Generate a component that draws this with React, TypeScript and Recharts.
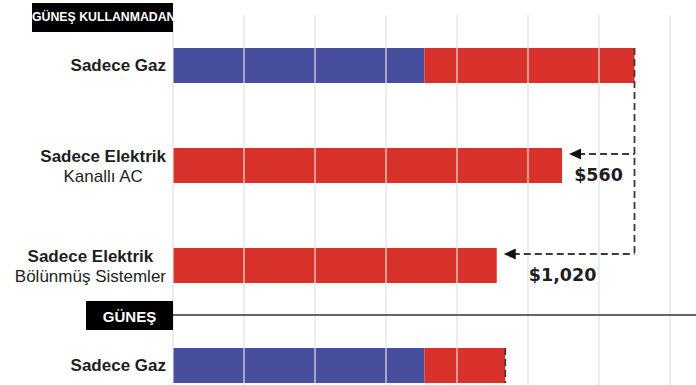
import React from 'react';
import { BarChart, Bar, XAxis, YAxis, ReferenceLine } from 'recharts';

const rowKeys = ['gasOnly', 'ductedAc', 'splitSystems', 'solarGasOnly'];
const rowTitles = ['Sadece Gaz', 'Sadece Elektrik', 'Sadece Elektrik', 'Sadece Gaz'];
const rowSubtitles = ['', 'Kanallı AC', 'Bölünmüş Sistemler', ''];
const gasCosts = [1770, 0, 0, 1770];
const electricCosts = [1480, 2740, 2280, 570];
const savingsLabels = ['', '$560', '$1,020', ''];
const gridTicks = [0, 500, 1000, 1500, 2000, 2500, 3000, 3500, 4000];

const BLUE = '#474e9e';
const RED = '#d8322a';
const DASH = '#3a3a3a';
const TEXT = '#1e1e1e';
const SANS = '"Liberation Sans", Arial, sans-serif';
const NUM_FONT = '"DejaVu Sans", sans-serif';

const CHART_W = 760;
const CHART_H = 420;
const MARGIN = { top: 15, right: 19, bottom: 5, left: 0 };
const BAND = (CHART_H - MARGIN.top - MARGIN.bottom) / rowKeys.length;

const data = rowKeys.map((key, i) => ({
  key,
  gas: gasCosts[i],
  electric: electricCosts[i],
}));
const baseline = gasCosts[0] + electricCosts[0];

let ctx: CanvasRenderingContext2D | null = null;
function textWidth(s: string, font: string) {
  if (!ctx) ctx = document.createElement('canvas').getContext('2d');
  if (!ctx) return s.length * 8;
  ctx.font = font;
  return ctx.measureText(s).width;
}

function RowTick(props: any) {
  const { x, y, payload } = props;
  const i = rowKeys.indexOf(payload.value);
  const title = rowTitles[i];
  const sub = rowSubtitles[i];
  const right = x + 1;
  if (!sub) {
    return (
      <text x={right} y={y} textAnchor="end" dominantBaseline="central"
        fontFamily={SANS} fontWeight={700} fontSize={17} fill={TEXT}>
        {title}
      </text>
    );
  }
  // two-line label: lines centred on each other, block right-aligned
  const w = Math.max(
    textWidth(title, `700 17px ${SANS}`),
    textWidth(sub, `400 17px ${SANS}`)
  );
  const cx = right - w / 2;
  return (
    <g>
      <text x={cx} y={y - 9} textAnchor="middle" dominantBaseline="central"
        fontFamily={SANS} fontWeight={700} fontSize={17} fill={TEXT}>
        {title}
      </text>
      <text x={cx} y={y + 11} textAnchor="middle" dominantBaseline="central"
        fontFamily={SANS} fontWeight={400} fontSize={17} fill={TEXT}>
        {sub}
      </text>
    </g>
  );
}

function ElectricLabel(props: any) {
  const vb = props.viewBox ?? props;
  const { x, y, width, height } = vb;
  const index = props.index;
  if (x == null || index == null) return null;
  const end = x + width;
  if (gasCosts[index] > 0) {
    // dashed cap on the gas bars; the first one drops down to the last arrow
    const y2 = index === 0 ? y + 2 * BAND + 6 : y + height;
    return (
      <line x1={end} x2={end} y1={y} y2={y2} stroke={DASH}
        strokeWidth={1.8} strokeDasharray="7 4" />
    );
  }
  const total = gasCosts[index] + electricCosts[index];
  const ref = x + (width * baseline) / total;
  const tip = end + 7;
  const ay = y + 6;
  return (
    <g>
      <line x1={tip + 9} x2={ref} y1={ay} y2={ay} stroke={DASH}
        strokeWidth={1.8} strokeDasharray="7 4" />
      <polygon points={`${tip},${ay} ${tip + 12},${ay - 5.5} ${tip + 12},${ay + 5.5}`} fill="#111" />
      <text x={tip + 0.45 * (ref - tip)} y={ay + 21} textAnchor="middle"
        dominantBaseline="central" fontFamily={NUM_FONT} fontWeight={700}
        fontSize={17.5} fill={TEXT}>
        {savingsLabels[index]}
      </text>
    </g>
  );
}

function SolarTag(props: any) {
  const vb = props.viewBox;
  if (!vb) return null;
  return (
    <g>
      <rect x={vb.x - 87} y={vb.y - 14} width={87} height={29} fill="#000" />
      <text x={vb.x - 43.5} y={vb.y + 1} textAnchor="middle" dominantBaseline="central"
        fontFamily={SANS} fontWeight={700} fontSize={15} fill="#fff">
        GÜNEŞ
      </text>
    </g>
  );
}

export default function App() {
  return (
    <div style={{
      position: 'fixed', left: 0, top: 0, width: 696, height: 385,
      overflow: 'hidden', background: '#fff',
    }}>
      <div style={{
        position: 'absolute', left: 32, top: 3, width: 141, height: 29,
        background: '#000', color: '#fff', fontFamily: SANS, fontWeight: 700,
        fontSize: 12.3, lineHeight: '29px', textAlign: 'center', whiteSpace: 'nowrap',
        zIndex: 2,
      }}>
        GÜNEŞ KULLANMADAN
      </div>
      <BarChart width={CHART_W} height={CHART_H} data={data} layout="vertical"
        margin={MARGIN} barSize={35}>
        <XAxis type="number" hide domain={[0, 4000]} ticks={gridTicks} />
        <YAxis type="category" dataKey="key" width={173} axisLine={false}
          tickLine={false} tick={<RowTick />} interval={0} />
        <Bar dataKey="gas" stackId="a" fill={BLUE} isAnimationActive={false} />
        <Bar dataKey="electric" stackId="a" fill={RED} isAnimationActive={false}
          label={ElectricLabel} />
        {gridTicks.map((t) => (
          <ReferenceLine key={t} x={t} stroke="#e2e2e2" strokeOpacity={0.8}
            strokeWidth={1.5} />
        ))}
        <ReferenceLine y="solarGasOnly" position="start" stroke="#333"
          strokeWidth={1.6} label={SolarTag} />
      </BarChart>
    </div>
  );
}
